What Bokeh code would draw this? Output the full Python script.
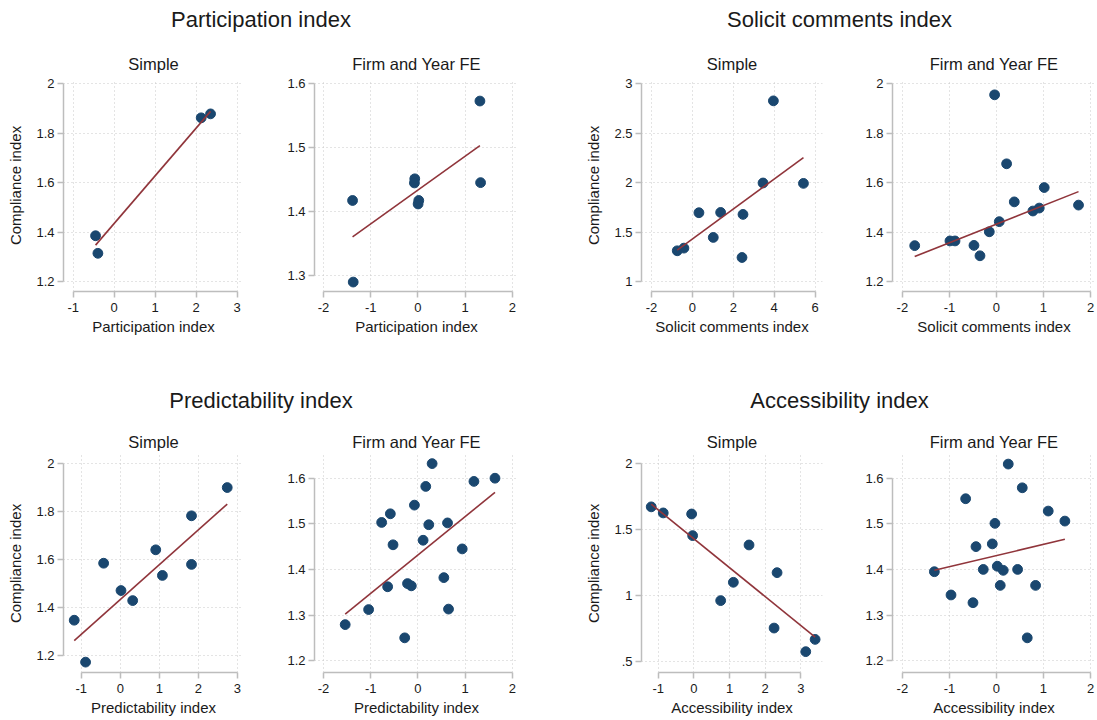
from bokeh.plotting import figure
from bokeh.layouts import row, column
from bokeh.models import Div, Spacer, FixedTicker, Range1d
from bokeh.embed import file_html
from bokeh.resources import INLINE

FONT = "Liberation Sans"
NAVY = "#1a476f"
MAROON = "#90353b"
AXIS_GREY = "#bdbdbd"
GRID_GREY = "#c8c8c8"

# ---------------- data ----------------
group_titles = ["Participation index", "Solicit comments index",
                "Predictability index", "Accessibility index"]
panel_titles = ["Simple", "Firm and Year FE"]
y_title = "Compliance index"

# Participation index
part_simple_x = [-0.455, -0.398, 2.122, 2.350]
part_simple_y = [1.385, 1.314, 1.862, 1.878]
part_simple_fit_x = [-0.455, 2.350]
part_simple_fit_y = [1.347, 1.888]
part_fe_x = [-1.384, -1.370, -0.067, -0.074, 0.018, 0.004, 1.313, 1.327]
part_fe_y = [1.417, 1.289, 1.451, 1.4445, 1.417, 1.4115, 1.573, 1.445]
part_fe_fit_x = [-1.384, 1.313]
part_fe_fit_y = [1.360, 1.503]

# Solicit comments index
solic_simple_x = [-0.743, -0.416, 0.318, 1.380, 1.020, 2.473, 2.424, 3.453, 3.959, 5.429]
solic_simple_y = [1.311, 1.338, 1.696, 1.699, 1.446, 1.679, 1.243, 1.997, 2.828, 1.993]
solic_simple_fit_x = [-0.743, 5.429]
solic_simple_fit_y = [1.318, 2.253]
solic_fe_x = [-1.738, -0.988, -0.881, -0.478, -0.350, -0.152, -0.039, 0.060,
              0.216, 0.379, 0.775, 0.910, 1.016, 1.745]
solic_fe_y = [1.345, 1.364, 1.364, 1.346, 1.304, 1.401, 1.955, 1.442,
              1.676, 1.522, 1.485, 1.497, 1.580, 1.509]
solic_fe_fit_x = [-1.738, 1.745]
solic_fe_fit_y = [1.301, 1.5635]

# Predictability index
pred_simple_x = [-1.180, -0.889, -0.426, 0.019, 0.319, 0.910, 1.081, 1.827, 1.827, 2.743]
pred_simple_y = [1.347, 1.172, 1.585, 1.471, 1.429, 1.641, 1.534, 1.783, 1.580, 1.901]
pred_simple_fit_x = [-1.180, 2.743]
pred_simple_fit_y = [1.2615, 1.832]
pred_fe_x = [-1.540, -1.044, -0.768, -0.584, -0.527, -0.641, -0.220, -0.140, -0.280, -0.074,
             0.166, 0.301, 0.110, 0.230, 0.627, 0.549, 0.648, 0.938, 1.186, 1.632]
pred_fe_y = [1.279, 1.312, 1.503, 1.522, 1.454, 1.362, 1.369, 1.364, 1.250, 1.541,
             1.582, 1.632, 1.464, 1.498, 1.502, 1.382, 1.313, 1.445, 1.593, 1.600]
pred_fe_fit_x = [-1.540, 1.632]
pred_fe_fit_y = [1.302, 1.569]

# Accessibility index
acc_simple_x = [-1.197, -0.860, -0.063, -0.035, 1.548, 1.108, 0.752, 2.335, 2.251, 3.140, 3.403]
acc_simple_y = [1.669, 1.623, 1.615, 1.451, 1.380, 1.097, 0.958, 1.170, 0.750, 0.571, 0.664]
acc_simple_fit_x = [-1.197, 3.403]
acc_simple_fit_y = [1.689, 0.682]
acc_fe_x = [-1.320, -0.966, -0.655, -0.499, -0.435, -0.280, -0.088, -0.032, 0.018,
            0.145, 0.081, 0.251, 0.450, 0.549, 0.832, 0.655, 1.101, 1.455]
acc_fe_y = [1.395, 1.344, 1.555, 1.327, 1.450, 1.400, 1.456, 1.501, 1.407,
            1.398, 1.365, 1.631, 1.400, 1.579, 1.365, 1.250, 1.528, 1.506]
acc_fe_fit_x = [-1.320, 1.455]
acc_fe_fit_y = [1.398, 1.466]

# ticks and tick labels
x_ticks_m1_3 = [-1, 0, 1, 2, 3]
x_labels_m1_3 = ["-1", "0", "1", "2", "3"]
x_ticks_m2_2 = [-2, -1, 0, 1, 2]
x_labels_m2_2 = ["-2", "-1", "0", "1", "2"]
x_ticks_m2_6 = [-2, 0, 2, 4, 6]
x_labels_m2_6 = ["-2", "0", "2", "4", "6"]
y_ticks_12_20 = [1.2, 1.4, 1.6, 1.8, 2.0]
y_labels_12_20 = ["1.2", "1.4", "1.6", "1.8", "2"]
y_ticks_13_16 = [1.3, 1.4, 1.5, 1.6]
y_labels_13_16 = ["1.3", "1.4", "1.5", "1.6"]
y_ticks_1_3 = [1.0, 1.5, 2.0, 2.5, 3.0]
y_labels_1_3 = ["1", "1.5", "2", "2.5", "3"]
y_ticks_12_16 = [1.2, 1.3, 1.4, 1.5, 1.6]
y_labels_12_16 = ["1.2", "1.3", "1.4", "1.5", "1.6"]
y_ticks_05_2 = [0.5, 1.0, 1.5, 2.0]
y_labels_05_2 = [".5", "1", "1.5", "2"]


def style_axis(ax, ticks, labels):
    tk = FixedTicker(ticks=ticks)
    ax.ticker = tk
    ax.major_label_overrides = {float(t): l for t, l in zip(ticks, labels)}
    ax.bounds = (min(ticks), max(ticks))
    ax.axis_line_color = AXIS_GREY
    ax.axis_line_width = 1.5
    ax.major_tick_line_color = AXIS_GREY
    ax.major_tick_line_width = 1.5
    ax.major_tick_out = 6
    ax.major_tick_in = 0
    ax.minor_tick_line_color = None
    ax.major_label_text_font = FONT
    ax.major_label_text_font_size = "13px"
    ax.major_label_text_color = "#1a1a1a"
    ax.major_label_standoff = 3
    ax.axis_label_text_font = FONT
    ax.axis_label_text_font_size = "15px"
    ax.axis_label_text_font_style = "normal"
    ax.axis_label_text_color = "#1a1a1a"
    return tk


def panel(xs, ys, fx, fy, xr, yr, xt, xl, yt, yl, title, xlabel, ylabel,
          borders, fw, fh, tstand):
    left, right, top, bottom = borders
    p = figure(frame_width=fw, frame_height=fh,
               x_range=Range1d(*xr), y_range=Range1d(*yr),
               output_backend="svg", toolbar_location=None,
               min_border_left=left, min_border_right=right,
               min_border_top=top, min_border_bottom=bottom,
               title=title)
    p.title.align = "center"
    p.title.text_font = FONT
    p.title.text_font_size = "16.5px"
    p.title.text_font_style = "normal"
    p.title.text_color = "#1a1a1a"
    p.title.standoff = tstand
    p.outline_line_color = None
    p.background_fill_color = "white"
    p.border_fill_color = "white"
    xtk = style_axis(p.xaxis[0], xt, xl)
    ytk = style_axis(p.yaxis[0], yt, yl)
    p.xaxis[0].axis_label = xlabel
    p.xaxis[0].major_label_standoff = 5
    p.xaxis[0].axis_label_standoff = 3
    if ylabel:
        p.yaxis[0].axis_label = ylabel
        p.yaxis[0].axis_label_standoff = 9
    for g, tk in ((p.xgrid[0], xtk), (p.ygrid[0], ytk)):
        g.ticker = tk
        g.grid_line_color = GRID_GREY
        g.grid_line_dash = "1 3"
        g.grid_line_width = 1
    p.scatter(xs, ys, size=9.8, fill_color=NAVY, line_color=NAVY)
    p.line(fx, fy, line_color=MAROON, line_width=1.6)
    return p


TOP_H, BOT_H = 212, 218
TB1 = (41, 49)
TB2 = (41, 46)

p1 = panel(part_simple_x, part_simple_y, part_simple_fit_x, part_simple_fit_y,
           (-1.237, 3.154), (1.1595, 2.017), x_ticks_m1_3, x_labels_m1_3,
           y_ticks_12_20, y_labels_12_20, panel_titles[0], "Participation index", y_title,
           (63, 30) + TB1, 180, TOP_H, 14)
p2 = panel(part_fe_x, part_fe_y, part_fe_fit_x, part_fe_fit_y,
           (-2.19, 2.13), (1.2742, 1.6068), x_ticks_m2_2, x_labels_m2_2,
           y_ticks_13_16, y_labels_13_16, panel_titles[1], "Participation index", None,
           (41, 61) + TB1, 204, TOP_H, 14)
p3 = panel(solic_simple_x, solic_simple_y, solic_simple_fit_x, solic_simple_fit_y,
           (-2.49, 6.36), (0.899, 3.044), x_ticks_m2_6, x_labels_m2_6,
           y_ticks_1_3, y_labels_1_3, panel_titles[0], "Solicit comments index", y_title,
           (62, 30) + TB1, 181, TOP_H, 14)
p4 = panel(solic_fe_x, solic_fe_y, solic_fe_fit_x, solic_fe_fit_y,
           (-2.21, 2.106), (1.1595, 2.017), x_ticks_m2_2, x_labels_m2_2,
           y_ticks_12_20, y_labels_12_20, panel_titles[1], "Solicit comments index", None,
           (40, 1) + TB1, 203, TOP_H, 14)

p5 = panel(pred_simple_x, pred_simple_y, pred_simple_fit_x, pred_simple_fit_y,
           (-1.455, 3.16), (1.1287, 2.039), x_ticks_m1_3, x_labels_m1_3,
           y_ticks_12_20, y_labels_12_20, panel_titles[0], "Predictability index", y_title,
           (63, 30) + TB2, 180, BOT_H, 7)
p6 = panel(pred_fe_x, pred_fe_y, pred_fe_fit_x, pred_fe_fit_y,
           (-2.19, 2.13), (1.174, 1.652), x_ticks_m2_2, x_labels_m2_2,
           y_ticks_12_16, y_labels_12_16, panel_titles[1], "Predictability index", None,
           (41, 61) + TB2, 204, BOT_H, 7)
p7 = panel(acc_simple_x, acc_simple_y, acc_simple_fit_x, acc_simple_fit_y,
           (-1.47, 3.61), (0.413, 2.066), x_ticks_m1_3, x_labels_m1_3,
           y_ticks_05_2, y_labels_05_2, panel_titles[0], "Accessibility index", y_title,
           (62, 30) + TB2, 181, BOT_H, 7)
p8 = panel(acc_fe_x, acc_fe_y, acc_fe_fit_x, acc_fe_fit_y,
           (-2.21, 2.106), (1.174, 1.652), x_ticks_m2_2, x_labels_m2_2,
           y_ticks_12_16, y_labels_12_16, panel_titles[1], "Accessibility index", None,
           (40, 1) + TB2, 203, BOT_H, 7)


def group_title(text, width, height, pad):
    html = ("<div style=\"font-family:'Liberation Sans';font-size:22px;line-height:22px;"
            "text-align:center;color:#1a1a1a;width:%dpx;padding-top:%dpx;\">%s</div>"
            % (width, pad, text))
    return Div(text=html, width=width, height=height, margin=0)


top_titles = row(group_title(group_titles[0], 522, 38, 9),
                 Spacer(width=78, height=38, margin=0),
                 group_title(group_titles[1], 479, 38, 9))
mid_titles = row(group_title(group_titles[2], 522, 73, 50),
                 Spacer(width=78, height=73, margin=0),
                 group_title(group_titles[3], 479, 73, 50))

layout = column(top_titles, row(p1, p2, p3, p4), mid_titles, row(p5, p6, p7, p8))

open("out.html", "w").write(file_html(layout, INLINE))
